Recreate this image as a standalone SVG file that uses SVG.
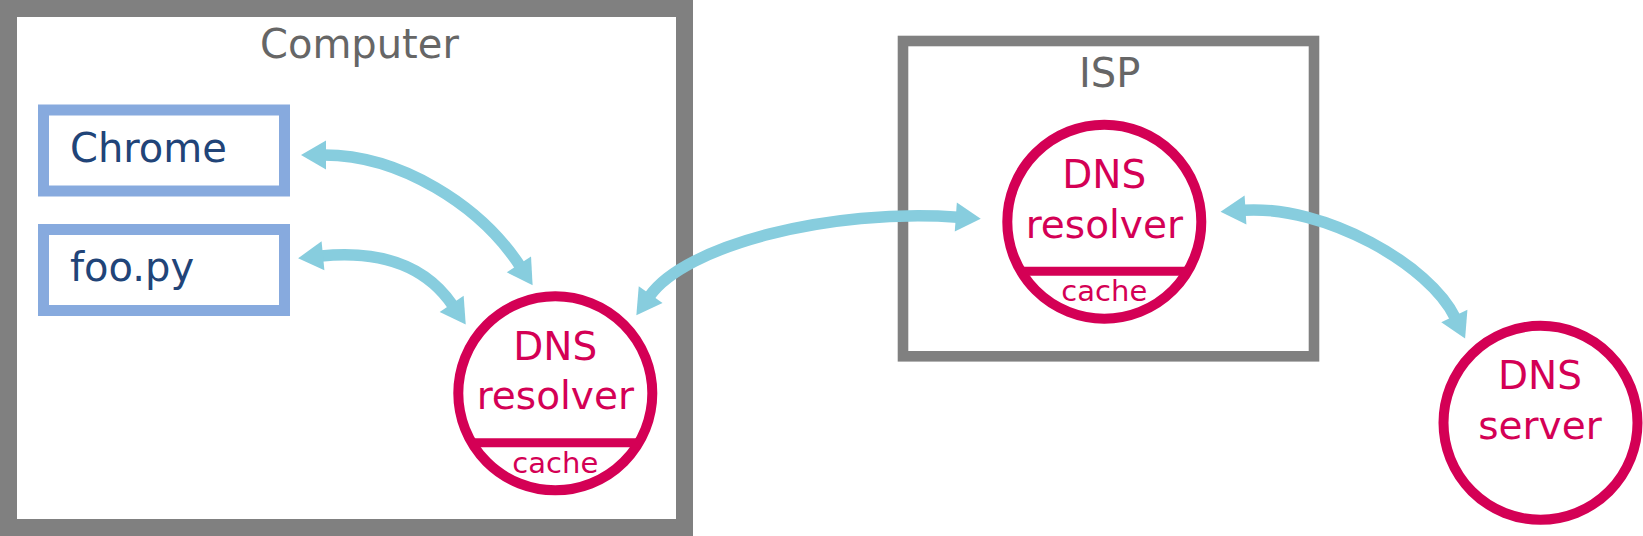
<svg xmlns="http://www.w3.org/2000/svg" width="1643" height="536" viewBox="0 0 1643 536">
<style>
.box{fill:#fff;stroke:#808080}
.app{fill:#fff;stroke:#87aade;stroke-width:11}
.node{fill:#fff;stroke:#d40055;stroke-width:10}
.sep{stroke:#d40055;stroke-width:9}
.t{font-family:"DejaVu Sans",sans-serif}
.title{font-size:40px;fill:#666666}
.apptxt{font-size:40px;fill:#214478}
.ntxt{font-size:39px;fill:#d40055;text-anchor:middle}
.ctxt{font-size:29px;fill:#d40055;text-anchor:middle}
.conn{fill:none;stroke:#87cdde;stroke-width:11.5;marker-start:url(#ah);marker-end:url(#ah)}
</style>
<defs>
<marker id="ah" markerUnits="userSpaceOnUse" markerWidth="30" markerHeight="30" refX="2" refY="14.5" orient="auto-start-reverse" viewBox="0 0 30 30" overflow="visible">
<path d="M0,0 L25,14.5 L0,29 Z" fill="#87cdde"/>
</marker>
</defs>
<rect width="1643" height="536" fill="#fff"/>
<g id="computer">
<rect class="box" x="8.5" y="8.5" width="676" height="519" stroke-width="17"/>
<text class="t title" x="260" y="58">Computer</text>
</g>
<g id="isp">
<rect class="box" x="903" y="41" width="411" height="315.3" stroke-width="10.6"/>
<text class="t title" x="1109.7" y="87" text-anchor="middle">ISP</text>
</g>
<g id="chrome">
<rect class="app" x="43.5" y="110" width="241" height="81"/>
<text class="t apptxt" x="70" y="161.5">Chrome</text>
</g>
<g id="foopy">
<rect class="app" x="43.5" y="229.5" width="241" height="81"/>
<text class="t apptxt" x="70" y="280.7">foo.py</text>
</g>
<g id="resolver-local">
<circle class="node" cx="555.3" cy="393.3" r="97"/>
<line class="sep" x1="470.3" y1="442.8" x2="640.3" y2="442.8"/>
<text class="t ntxt" x="555.3" y="360">DNS</text>
<text class="t ntxt" x="555.3" y="409.3">resolver</text>
<text class="t ctxt" x="555.3" y="472.7">cache</text>
</g>
<g id="resolver-isp">
<circle class="node" cx="1104.3" cy="221.7" r="97"/>
<line class="sep" x1="1019.3" y1="271.2" x2="1189.3" y2="271.2"/>
<text class="t ntxt" x="1104.3" y="188.3">DNS</text>
<text class="t ntxt" x="1104.3" y="237.6">resolver</text>
<text class="t ctxt" x="1104.3" y="301">cache</text>
</g>
<g id="dns-server">
<circle class="node" cx="1540.5" cy="422.8" r="97"/>
<text class="t ntxt" x="1540" y="389.3">DNS</text>
<text class="t ntxt" x="1540" y="438.7">server</text>
</g>
<g id="connectors">
<path class="conn" d="M324,155 C400,155 480,205 520,266"/>
<path class="conn" d="M321,256 Q413,247 452.8,305.5"/>
<path class="conn" d="M649.5,296.3 C685,245.3 830,208 957.8,217.2"/>
<path class="conn" d="M1243.5,210.2 C1325,205 1430,265 1455.2,317.8"/>
</g>
</svg>
